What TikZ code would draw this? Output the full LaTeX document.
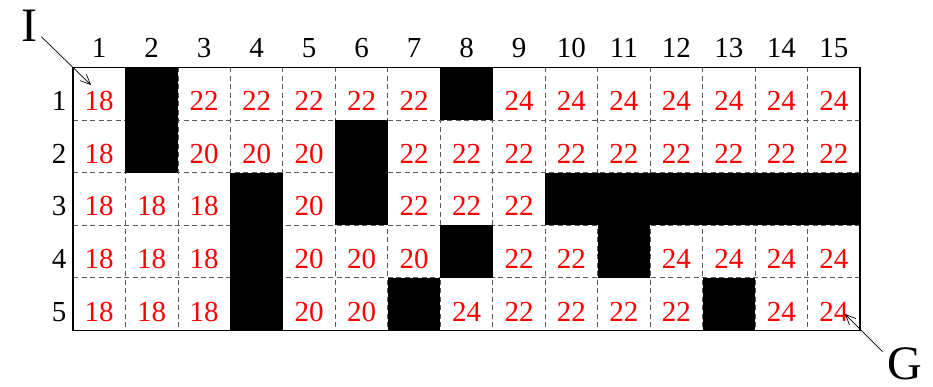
\documentclass[tikz,border=0pt]{standalone}
\usepackage{fontspec}
\setmainfont{Liberation Serif}
\usetikzlibrary{arrows.meta}
\begin{document}
\begin{tikzpicture}[x=1pt,y=-1pt,
  num/.style={text=red, font=\fontsize{29}{30}\selectfont, anchor=base, inner sep=0pt},
  lab/.style={text=black, font=\fontsize{29}{30}\selectfont, anchor=base, inner sep=0pt},
  big/.style={font=\fontsize{48}{50}\selectfont, anchor=base, inner sep=0pt, text depth=0pt},
  gridline/.style={draw=black!65, line width=0.8pt, dash pattern=on 5pt off 3.5pt},
  border/.style={draw=black, line width=1.6pt},
  blk/.style={fill=black},
  ptr/.style={draw=black, line width=0.7pt, -{Straight Barb[length=10pt,width=9pt,line width=0.7pt]}}]
\useasboundingbox (0,0) rectangle (933,386);
\def\L{73}\def\T{67.3}\def\W{52.47}\def\H{52.6}
% dashed grid
\foreach \k in {1,...,14} \draw[gridline] ({\L+\W*\k},\T) -- ({\L+\W*\k},{\T+5*\H});
\foreach \k in {1,...,4} \draw[gridline] (\L,{\T+\H*\k}) -- ({\L+15*\W},{\T+\H*\k});
% cells
\def\tmpB{B}
\foreach \row [count=\r] in {
  {18,B,22,22,22,22,22,B,24,24,24,24,24,24,24},
  {18,B,20,20,20,B,22,22,22,22,22,22,22,22,22},
  {18,18,18,B,20,B,22,22,22,B,B,B,B,B,B},
  {18,18,18,B,20,20,20,B,22,22,B,24,24,24,24},
  {18,18,18,B,20,20,B,24,22,22,22,22,B,24,24}} {
  \foreach \v [count=\c] in \row {
    \edef\tmpv{\v}
    \ifx\tmpv\tmpB
      \fill[blk] ({\L+\W*(\c-1)},{\T+\H*(\r-1)}) rectangle ({\L+\W*\c},{\T+\H*\r});
    \else
      \node[num] (c-\r-\c) at ({\L+\W*(\c-0.5)},{\T+\H*(\r-0.5)+17.1}) {\v};
    \fi
  }
}
% border
\draw[border] (\L,\T) rectangle ({\L+15*\W},{\T+5*\H});
% column headers
\foreach \c in {1,...,15} \node[lab] (h-\c) at ({\L+\W*(\c-0.5)},57.7) {\c};
% row labels
\foreach \r in {1,...,5} \node[lab] (r-\r) at (59,{\T+\H*(\r-0.5)+17.1}) {\r};
% I and G
\node[big] (I) at (29.7,41.7) {I};
\node[big] (G) at (905,379.5) {G};
\coordinate (Is) at (41.3,36.7);
\coordinate (It) at (91,85);
\coordinate (Gs) at (882.5,351.7);
\coordinate (Gt) at (845,314);
\draw[ptr] (Is) -- (It);
\draw[ptr] (Gs) -- (Gt);
\end{tikzpicture}
\end{document}
